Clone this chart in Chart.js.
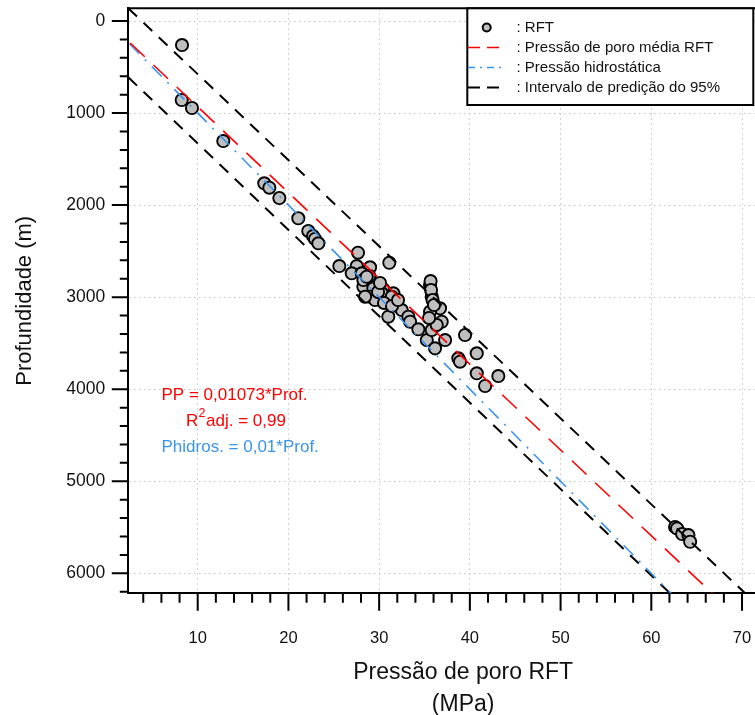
<!DOCTYPE html>
<html><head><meta charset="utf-8">
<script src="https://cdn.jsdelivr.net/npm/chart.js@4.4.1/dist/chart.umd.min.js"></script>
<style>html,body{margin:0;padding:0;background:#fff;overflow:hidden;}canvas{display:block;}</style>
</head><body>
<canvas id="c" width="798" height="715"></canvas>
<script>
// ---- data ----
const rftPressure = [8.27, 8.24, 9.37, 12.82, 17.34, 17.90, 19.00, 21.09, 22.19, 22.71, 22.93, 23.30,
  27.67, 25.61, 27.53, 29.00, 31.12, 26.98, 28.08, 28.92, 28.26, 29.36, 30.46, 31.57, 29.00, 29.55,
  30.84, 31.94, 32.49, 31.01, 33.22, 33.41, 34.32, 35.25, 35.61, 35.80, 36.71, 35.61, 36.90, 35.80,
  36.35, 37.27, 36.16, 39.47, 38.73, 38.92, 40.76, 40.76, 41.68, 43.14, 35.67, 35.72, 35.89, 36.05,
  35.50, 28.26, 28.63, 28.45, 30.29, 31.39, 29.88, 30.54, 31.42, 30.10, 32.08,
  62.62, 62.84, 63.40, 64.09, 64.28];
const rftDepth = [261, 858, 945, 1304, 1763, 1811, 1923, 2143, 2281, 2336, 2368, 2415,
  2517, 2662, 2662, 2676, 2626, 2741, 2741, 2770, 2886, 2904, 2915, 2958, 2995, 3031,
  2995, 3067, 3140, 3212, 3212, 3267, 3349, 3466, 2868, 2995, 3121, 3158, 3267, 3357,
  3302, 3466, 3556, 3411, 3664, 3701, 3610, 3827, 3965, 3857, 2825, 2922, 3031, 3085,
  3226, 2814, 2778, 2995, 2958, 2995, 2943, 3063, 3096, 2846, 3031,
  5497, 5513, 5573, 5584, 5657];

// fitted / reference lines: end points (pressure MPa, depth m)
const meanLineP = [0, 75];        // PP = 0,01073*Prof.
const meanLineD = [0, 6990];
const hydroLineP = [0, 70];       // Phidros = 0,01*Prof.
const hydroLineD = [0, 7000];
const upperPIP = [2.35, 70.34];
const upperPID = [-138, 6217];
const lowerPIP = [2.35, 62.07];
const lowerPID = [612, 6217];

const xMajorTicks = [10, 20, 30, 40, 50, 60, 70];
const xMinorTicks = [4, 6, 8, 12, 14, 16, 18, 22, 24, 26, 28, 32, 34, 36, 38, 42, 44, 46, 48,
  52, 54, 56, 58, 62, 64, 66, 68, 72, 74, 76];
const yMajorTicks = [0, 1000, 2000, 3000, 4000, 5000, 6000];
const yMinorTicks = [200, 400, 600, 800, 1200, 1400, 1600, 1800, 2200, 2400, 2600, 2800,
  3200, 3400, 3600, 3800, 4200, 4400, 4600, 4800, 5200, 5400, 5600, 5800, 6200];

const legendLabels = ['RFT', 'Pressão de poro média RFT', 'Pressão hidrostática', 'Intervalo de predição do 95%'];
const xTitle = ['Pressão de poro RFT', '(MPa)'];
const yTitle = 'Profundidade (m)';
const eqPP = 'PP = 0,01073*Prof.';
const eqR2 = ['R', '2', 'adj. = 0,99'];
const eqHydro = 'Phidros. = 0,01*Prof.';

const FONT = '"Liberation Sans", Arial, Helvetica, sans-serif';
const RED = '#ff0000', BLUE = '#3b94ec', GRAY = '#bfbfbf';

const pts = (px, py) => px.map((v, i) => ({x: v, y: py[i]}));

const decor = {
  id: 'decor',
  afterDraw(chart) {
    const {ctx, chartArea: a, scales: {x, y}} = chart;
    ctx.save();
    ctx.strokeStyle = '#000';
    ctx.lineWidth = 2;
    // top border
    ctx.beginPath(); ctx.moveTo(a.left - 1, a.top); ctx.lineTo(a.right, a.top); ctx.stroke();
    // tick marks (major + minor)
    ctx.beginPath();
    xMajorTicks.forEach(v => { const p = x.getPixelForValue(v); ctx.moveTo(p, a.bottom); ctx.lineTo(p, a.bottom + 17.5); });
    xMinorTicks.forEach(v => { const p = x.getPixelForValue(v); ctx.moveTo(p, a.bottom); ctx.lineTo(p, a.bottom + 9.5); });
    yMajorTicks.forEach(v => { const p = y.getPixelForValue(v); ctx.moveTo(a.left, p); ctx.lineTo(a.left - 16.5, p); });
    yMinorTicks.forEach(v => { const p = y.getPixelForValue(v); ctx.moveTo(a.left, p); ctx.lineTo(a.left - 8.5, p); });
    ctx.stroke();

    // legend
    const lx = 467.3, ly = 8.3, lw = 286, lh = 96.7;
    ctx.fillStyle = '#fff';
    ctx.fillRect(lx, ly, lw, lh);
    ctx.lineWidth = 2; ctx.strokeStyle = '#000'; ctx.setLineDash([]);
    ctx.strokeRect(lx, ly, lw, lh);
    const ds = chart.data.datasets;
    const rows = [27.5, 47.5, 67.5, 87.5];
    ctx.beginPath(); ctx.arc(486.7, rows[0], 4, 0, Math.PI * 2);
    ctx.fillStyle = ds[0].backgroundColor; ctx.fill();
    ctx.lineWidth = 2; ctx.strokeStyle = '#000'; ctx.stroke();
    const legLine = (d, yy, x0, x1) => {
      ctx.beginPath(); ctx.setLineDash(d.legendDash); ctx.strokeStyle = d.borderColor; ctx.lineWidth = d.borderWidth;
      ctx.moveTo(x0, yy); ctx.lineTo(x1, yy); ctx.stroke(); ctx.setLineDash([]);
    };
    legLine(ds[1], rows[1], 468, 500);
    legLine(ds[2], rows[2], 468, 503);
    legLine(ds[3], rows[3], 468, 500);
    ctx.fillStyle = '#111';
    ctx.font = '15px ' + FONT;
    ctx.textBaseline = 'middle'; ctx.textAlign = 'left';
    legendLabels.forEach((t, i) => ctx.fillText(': ' + t, 516.5, rows[i]));

    // equations
    ctx.font = '17px ' + FONT;
    ctx.fillStyle = RED;
    ctx.fillText(eqPP, 161.5, 395);
    let cx = 186;
    ctx.fillText(eqR2[0], cx, 421); cx += ctx.measureText(eqR2[0]).width;
    ctx.font = '12.5px ' + FONT; ctx.fillText(eqR2[1], cx + 0.3, 414); cx += ctx.measureText(eqR2[1]).width + 0.8;
    ctx.font = '17px ' + FONT; ctx.fillText(eqR2[2], cx, 421);
    ctx.fillStyle = BLUE;
    ctx.fillText(eqHydro, 161.5, 447);
    ctx.restore();
  }
};

new Chart(document.getElementById('c'), {
  type: 'scatter',
  data: {
    datasets: [
      {label: legendLabels[0], data: pts(rftPressure, rftDepth), backgroundColor: GRAY, borderColor: '#000',
        borderWidth: 1.9, pointRadius: 6.1, order: 5},
      {label: legendLabels[1], type: 'line', data: pts(meanLineP, meanLineD), borderColor: RED, borderWidth: 1.6,
        borderDash: [20, 12], legendDash: [12, 7], pointRadius: 0, fill: false, order: 1},
      {label: legendLabels[2], type: 'line', data: pts(hydroLineP, hydroLineD), borderColor: BLUE, borderWidth: 1.6,
        borderDash: [14, 8, 2, 8], legendDash: [7, 5, 2, 5], pointRadius: 0, fill: false, order: 1},
      {label: legendLabels[3], type: 'line', data: pts(upperPIP, upperPID), borderColor: '#000', borderWidth: 2,
        borderDash: [12, 9], legendDash: [12, 7], pointRadius: 0, fill: false, order: 1},
      {label: legendLabels[3] + ' ', type: 'line', data: pts(lowerPIP, lowerPID), borderColor: '#000', borderWidth: 2,
        borderDash: [12, 9], pointRadius: 0, fill: false, order: 1}
    ]
  },
  options: {
    responsive: false, animation: false, devicePixelRatio: 1,
    layout: {autoPadding: false, padding: {left: 0, top: 8.3, right: 0, bottom: 0}},
    plugins: {legend: {display: false}, tooltip: {enabled: false}},
    scales: {
      x: {
        type: 'linear', min: 2.35, max: 76.17,
        afterBuildTicks: s => { s.ticks = xMajorTicks.map(v => ({value: v})); },
        afterFit: s => { s.height = 121.7; s.paddingLeft = 0; s.paddingRight = 0; },
        grid: {color: '#c4c4c4', lineWidth: 1, drawTicks: false},
        border: {display: true, color: '#000', width: 2, dash: [1.5, 3.5]},
        ticks: {color: '#111', font: {family: FONT, size: 16.5}, padding: 35, maxRotation: 0, autoSkip: false,
          callback: v => String(v)},
        title: {display: true, text: xTitle, color: '#111', font: {family: FONT, size: 23, lineHeight: 32 / 23},
          padding: {top: 0, bottom: -6}}
      },
      y: {
        type: 'linear', reverse: true, min: -138, max: 6217,
        afterBuildTicks: s => { s.ticks = yMajorTicks.map(v => ({value: v})); },
        afterFit: s => { s.width = 128.3; s.paddingTop = 0; s.paddingBottom = 0; },
        grid: {color: '#c4c4c4', lineWidth: 1, drawTicks: false},
        border: {display: true, color: '#000', width: 2, dash: [1.5, 3.5]},
        ticks: {color: '#111', font: {family: FONT, size: 17.5}, padding: 23, autoSkip: false,
          callback: v => String(v)},
        title: {display: true, text: yTitle, color: '#111', font: {family: FONT, size: 22, lineHeight: 1.2},
          padding: {top: 11.8, bottom: 0}}
      }
    }
  },
  plugins: [decor]
});
</script>
</body></html>
